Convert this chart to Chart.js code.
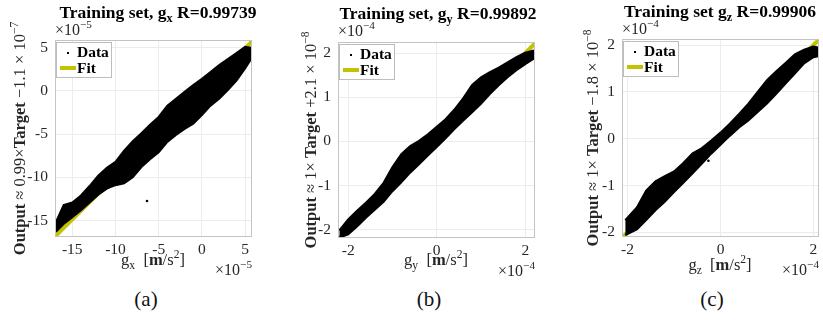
<!DOCTYPE html>
<html>
<head>
<meta charset="utf-8">
<script src="https://cdn.jsdelivr.net/npm/chart.js@4.4.0/dist/chart.umd.min.js"></script>
<style>
  body { margin: 0; background: #fff; width: 823px; height: 320px; position: relative; overflow: hidden; }
  canvas { position: absolute; top: 0; }
  .cap { position: absolute; top: 287px; font: 21px "Liberation Serif", serif; color: #111; transform: translateX(-50%); }
</style>
</head>
<body>
<canvas id="chartA" width="274" height="280" style="left:0"></canvas>
<canvas id="chartB" width="274" height="280" style="left:274px"></canvas>
<canvas id="chartC" width="275" height="280" style="left:548px"></canvas>
<div class="cap" style="left:146px">(a)</div>
<div class="cap" style="left:429px">(b)</div>
<div class="cap" style="left:712px">(c)</div>

<script>
/* ===== DATA ===== */
// gx panel, values in 1e-5 m/s^2
const GX_X     = [-16.9, -16, -15, -14, -13, -12, -11, -10, -9, -8, -7, -6, -5, -4, -3, -2, -1, 0, 1, 2, 3, 4, 5, 5.7];
const GX_UPPER = [-15.2, -13.2, -12.9, -12.1, -11.0, -9.8, -8.9, -8.2, -6.9, -5.8, -4.9, -3.9, -3.0, -1.7, -0.9, -0.1, 0.7, 1.4, 2.2, 3.0, 3.7, 4.4, 5.1, 5.0];
const GX_LOWER = [-16.3, -15.4, -14.6, -13.8, -12.9, -12.0, -11.3, -10.9, -10.7, -10.0, -8.8, -7.9, -7.1, -5.9, -5.1, -4.4, -3.8, -2.8, -1.7, -0.9, 0.1, 1.2, 2.6, 3.7];
const GX_STRAY = [[-6.35, -12.74]];
const GX_FIT   = [0.99, -0.011]; // slope, offset (-1.1e-7)
const GX_XTICKS = [-15, -10, -5, 0, 5];
const GX_YTICKS = [-15, -10, -5, 0, 5];

// gy panel, values in 1e-4 m/s^2
const GY_X     = [-2.2, -2.0, -1.8, -1.6, -1.4, -1.2, -1.0, -0.8, -0.6, -0.4, -0.2, 0, 0.2, 0.4, 0.6, 0.8, 1.0, 1.2, 1.4, 1.6, 1.8, 2.0, 2.2];
const GY_UPPER = [-2.02, -1.77, -1.57, -1.39, -1.19, -0.94, -0.58, -0.29, -0.11, 0.01, 0.16, 0.33, 0.50, 0.72, 0.98, 1.28, 1.45, 1.57, 1.67, 1.79, 1.91, 2.01, 2.06];
const GY_LOWER = [-2.18, -2.11, -1.93, -1.73, -1.55, -1.37, -1.13, -0.93, -0.71, -0.52, -0.32, -0.13, 0.07, 0.28, 0.47, 0.66, 0.85, 1.07, 1.27, 1.45, 1.61, 1.75, 1.88];
const GY_STRAY = [];
const GY_FIT   = [1, 0.00021]; // +2.1e-8
const GY_XTICKS = [-2, 0, 2];
const GY_YTICKS = [-2, -1, 0, 1, 2];

// gz panel, values in 1e-4 m/s^2
const GZ_X     = [-2.05, -1.8, -1.6, -1.4, -1.2, -1.0, -0.8, -0.6, -0.4, -0.2, 0, 0.2, 0.4, 0.6, 0.8, 1.0, 1.2, 1.4, 1.6, 1.8, 2.0, 2.1];
const GZ_UPPER = [-1.74, -1.47, -1.11, -0.91, -0.80, -0.70, -0.52, -0.31, -0.20, -0.04, 0.13, 0.32, 0.53, 0.75, 1.00, 1.25, 1.44, 1.62, 1.80, 1.90, 1.97, 1.95];
const GZ_LOWER = [-2.06, -1.94, -1.74, -1.53, -1.35, -1.14, -0.94, -0.74, -0.53, -0.32, -0.13, 0.06, 0.24, 0.39, 0.57, 0.75, 0.96, 1.18, 1.39, 1.61, 1.74, 1.76];
const GZ_STRAY = [[-0.26, -0.47]];
const GZ_FIT   = [1, -0.00018]; // -1.8e-8
const GZ_XTICKS = [-2, 0, 2];
const GZ_YTICKS = [-2, -1, 0, 1, 2];

/* ===== STYLE ===== */
const FONT = '"Liberation Serif", serif';
const FIT_COLOR = "#c2c200";
const TICK_COLOR = "#262626";
const H = 280;

/* ===== RICH TEXT (sub/superscripts) ===== */
function drawRuns(ctx, runs, x, y, size, align) {
  const pieces = runs.map((r) => {
    const s = r.sup || r.sub ? size * 0.7 : size;
    const font = `${r.bold ? "bold " : ""}${s}px ${FONT}`;
    ctx.font = font;
    return {
      t: r.t,
      font,
      w: ctx.measureText(r.t).width,
      dy: r.sup ? -size * 0.42 : r.sub ? size * 0.22 : 0,
    };
  });
  const total = pieces.reduce((a, p) => a + p.w, 0);
  let cx = align === "center" ? x - total / 2 : align === "right" ? x - total : x;
  ctx.textAlign = "left";
  ctx.textBaseline = "alphabetic";
  pieces.forEach((p) => {
    ctx.font = p.font;
    ctx.fillText(p.t, cx, y + p.dy);
    cx += p.w;
  });
}

/* ===== BOX, LEGEND, LABELS ===== */
const decoPlugin = {
  id: "deco",
  afterDraw(chart, args, o) {
    const { ctx, chartArea: a } = chart;
    ctx.save();

    // axes box
    ctx.strokeStyle = "#c4c4c4";
    ctx.lineWidth = 1;
    ctx.strokeRect(a.left + 0.5, a.top + 0.5, a.right - a.left - 1, a.bottom - a.top - 1);

    // legend
    const lx = a.left + 1, ly = a.top + 2;
    ctx.fillStyle = "#fff";
    ctx.fillRect(lx + 0.5, ly + 0.5, 55, 35);
    ctx.strokeStyle = "#bdbdbd";
    ctx.strokeRect(lx + 0.5, ly + 0.5, 55, 35);
    ctx.fillStyle = "#000";
    ctx.fillRect(lx + 11, ly + 10, 2, 2);
    ctx.strokeStyle = FIT_COLOR;
    ctx.lineWidth = 4;
    ctx.beginPath();
    ctx.moveTo(lx + 4, ly + 26);
    ctx.lineTo(lx + 20, ly + 26);
    ctx.stroke();
    ctx.fillStyle = "#000";
    drawRuns(ctx, [{ t: "Data", bold: true }], lx + 21, ly + 15, 15.5, "left");
    drawRuns(ctx, [{ t: "Fit", bold: true }], lx + 21, ly + 31, 15.5, "left");

    // title
    ctx.fillStyle = "#000";
    drawRuns(ctx, o.title, o.titleX, o.titleY, 17.5, "center");

    // axis labels
    ctx.fillStyle = TICK_COLOR;
    drawRuns(ctx, o.xLabel, o.xLabelX, o.xLabelY, 16.5, "center");
    ctx.save();
    ctx.translate(o.yLabelX, (a.top + a.bottom) / 2);
    ctx.rotate(-Math.PI / 2);
    drawRuns(ctx, o.yLabel, 0, 0, 16.5, "center");
    ctx.restore();

    // exponent labels
    const exp = [{ t: "×10" }, { t: "−" + o.exp, sup: true }];
    drawRuns(ctx, exp, a.left, o.expTopY, 16, "left");
    drawRuns(ctx, exp, a.right, o.expBottomY, 16, "right");

    ctx.restore();
  },
};

/* ===== PANEL BUILDER ===== */
function toPoints(xs, ys) {
  return xs.map((x, i) => ({ x, y: ys[i] }));
}

function makePanel(id, p) {
  const canvas = document.getElementById(id);
  const W = canvas.width;
  const fitData = [p.xRange[0], p.xRange[1]].map((x) => ({ x, y: p.fit[0] * x + p.fit[1] }));

  const tickFont = { family: FONT, size: 15.5 };

  return new Chart(canvas, {
    type: "scatter",
    data: {
      datasets: [
        {
          label: "Data",
          data: toPoints(p.xs, p.upper),
          showLine: true,
          fill: "+1",
          backgroundColor: "#000",
          borderColor: "#000",
          borderWidth: 2,
          pointRadius: 0,
          order: 1,
        },
        {
          label: "Data lower",
          data: toPoints(p.xs, p.lower),
          showLine: true,
          fill: false,
          borderColor: "#000",
          borderWidth: 2,
          pointRadius: 0,
          order: 1,
        },
        {
          label: "Data stray",
          data: p.stray.map(([x, y]) => ({ x, y })),
          pointRadius: 1.3,
          backgroundColor: "#000",
          borderWidth: 0,
          order: 0,
        },
        {
          label: "Fit",
          data: fitData,
          showLine: true,
          borderColor: FIT_COLOR,
          borderWidth: 4,
          pointRadius: 0,
          order: 2,
        },
      ],
    },
    options: {
      responsive: false,
      animation: false,
      layout: { padding: { left: 0, right: W - p.area.right, top: p.area.top, bottom: 0 } },
      scales: {
        x: {
          type: "linear",
          min: p.xRange[0],
          max: p.xRange[1],
          afterFit: (s) => { s.height = H - p.area.bottom; },
          afterBuildTicks: (s) => { s.ticks = p.xTicks.map((v) => ({ value: v })); },
          ticks: { font: tickFont, color: TICK_COLOR, padding: 4, maxRotation: 0, callback: (v) => String(v) },
          grid: { color: "#ececec", drawTicks: false },
          border: { display: false },
        },
        y: {
          type: "linear",
          min: p.yRange[0],
          max: p.yRange[1],
          afterFit: (s) => { s.width = p.area.left; },
          afterBuildTicks: (s) => { s.ticks = p.yTicks.map((v) => ({ value: v })); },
          ticks: { font: tickFont, color: TICK_COLOR, padding: 7, callback: (v) => String(v) },
          grid: { color: "#ececec", drawTicks: false },
          border: { display: false },
        },
      },
      plugins: {
        legend: { display: false },
        tooltip: { enabled: false },
        deco: p.deco,
      },
    },
    plugins: [decoPlugin],
  });
}

/* ===== PANELS ===== */
makePanel("chartA", {
  xs: GX_X, upper: GX_UPPER, lower: GX_LOWER, stray: GX_STRAY, fit: GX_FIT,
  xTicks: GX_XTICKS, yTicks: GX_YTICKS,
  xRange: [-17, 5.8], yRange: [-16.9, 5.9],
  area: { left: 55, right: 252, top: 40, bottom: 237 },
  deco: {
    title: [{ t: "Training set, g", bold: true }, { t: "x", bold: true, sub: true }, { t: " R=0.99739", bold: true }],
    titleX: 158, titleY: 18,
    xLabel: [{ t: "g" }, { t: "x", sub: true }, { t: "  [" }, { t: "m", bold: true }, { t: "/s" }, { t: "2", sup: true }, { t: "]" }],
    xLabelX: 153, xLabelY: 265,
    yLabel: [{ t: "Output ", bold: true }, { t: "≈ 0.99×" }, { t: "Target ", bold: true }, { t: "−1.1 × 10" }, { t: "−7", sup: true }],
    yLabelX: 25,
    exp: "5", expTopY: 35, expBottomY: 275,
  },
});

makePanel("chartB", {
  xs: GY_X, upper: GY_UPPER, lower: GY_LOWER, stray: GY_STRAY, fit: GY_FIT,
  xTicks: GY_XTICKS, yTicks: GY_YTICKS,
  xRange: [-2.23, 2.22], yRange: [-2.19, 2.25],
  area: { left: 64, right: 261, top: 42, bottom: 238 },
  deco: {
    title: [{ t: "Training set, g", bold: true }, { t: "y", bold: true, sub: true }, { t: " R=0.99892", bold: true }],
    titleX: 164, titleY: 19,
    xLabel: [{ t: "g" }, { t: "y", sub: true }, { t: "  [" }, { t: "m", bold: true }, { t: "/s" }, { t: "2", sup: true }, { t: "]" }],
    xLabelX: 162, xLabelY: 265,
    yLabel: [{ t: "Output ", bold: true }, { t: "≈ 1× " }, { t: "Target ", bold: true }, { t: "+2.1 × 10" }, { t: "−8", sup: true }],
    yLabelX: 42,
    exp: "4", expTopY: 36, expBottomY: 276,
  },
});

makePanel("chartC", {
  xs: GZ_X, upper: GZ_UPPER, lower: GZ_LOWER, stray: GZ_STRAY, fit: GZ_FIT,
  xTicks: GZ_XTICKS, yTicks: GZ_YTICKS,
  xRange: [-2.12, 2.12], yRange: [-2.1, 2.13],
  area: { left: 74, right: 271, top: 39, bottom: 237 },
  deco: {
    title: [{ t: "Training set g", bold: true }, { t: "z", bold: true, sub: true }, { t: " R=0.99906", bold: true }],
    titleX: 172, titleY: 17,
    xLabel: [{ t: "g" }, { t: "z", sub: true }, { t: "  [" }, { t: "m", bold: true }, { t: "/s" }, { t: "2", sup: true }, { t: "]" }],
    xLabelX: 172, xLabelY: 270,
    yLabel: [{ t: "Output ", bold: true }, { t: "≈ 1× " }, { t: "Target ", bold: true }, { t: "−1.8 × 10" }, { t: "−8", sup: true }],
    yLabelX: 50,
    exp: "4", expTopY: 34, expBottomY: 275,
  },
});
</script>
</body>
</html>
